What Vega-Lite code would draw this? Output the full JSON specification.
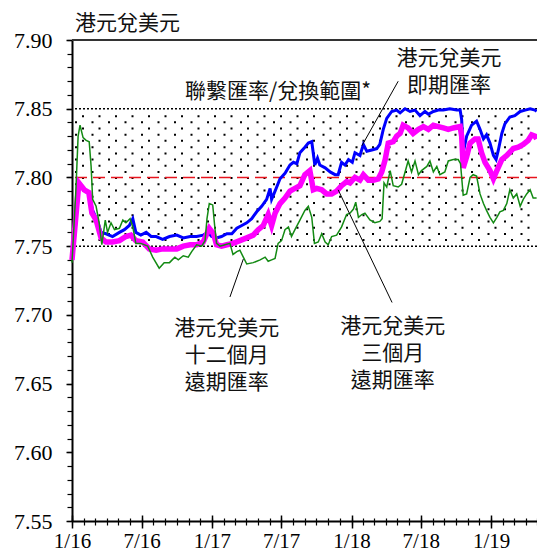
{
"$schema":"https://vega.github.io/schema/vega-lite/v6.json",
"width":465,"height":481,
"autosize":{"type":"none"},
"padding":{"left":72,"top":40,"right":0,"bottom":31},
"background":"white",
"config":{"view":{"stroke":null},"axis":{"grid":false,"domainColor":"black","tickColor":"black","labelColor":"black","labelFont":"Liberation Serif","title":null}},
"title":{"text":"港元兌美元","anchor":"start","frame":"group","font":"Noto Sans CJK TC","fontSize":21,"fontWeight":"normal","color":"#111","offset":6,"dx":3,"dy":11},
"datasets":{
"spot":[
{"d":"2016-01-01","v":7.742},{"d":"2016-01-09","v":7.760},{"d":"2016-01-19","v":7.795},{"d":"2016-01-27","v":7.793},{"d":"2016-02-07","v":7.790},{"d":"2016-02-15","v":7.787},{"d":"2016-02-24","v":7.776},{"d":"2016-03-08","v":7.768},{"d":"2016-03-17","v":7.760},{"d":"2016-03-30","v":7.759},{"d":"2016-04-16","v":7.757},{"d":"2016-05-04","v":7.760},{"d":"2016-05-17","v":7.762},{"d":"2016-05-30","v":7.765},{"d":"2016-06-08","v":7.770},{"d":"2016-06-16","v":7.760},{"d":"2016-06-29","v":7.758},{"d":"2016-07-13","v":7.760},{"d":"2016-07-26","v":7.757},{"d":"2016-08-08","v":7.757},{"d":"2016-08-25","v":7.755},{"d":"2016-09-12","v":7.757},{"d":"2016-10-01","v":7.758},{"d":"2016-10-18","v":7.756},{"d":"2016-11-05","v":7.757},{"d":"2016-11-22","v":7.757},{"d":"2016-12-09","v":7.758},{"d":"2016-12-22","v":7.760},{"d":"2016-12-31","v":7.757},{"d":"2017-01-13","v":7.756},{"d":"2017-01-26","v":7.757},{"d":"2017-02-09","v":7.759},{"d":"2017-02-22","v":7.759},{"d":"2017-03-07","v":7.763},{"d":"2017-03-20","v":7.765},{"d":"2017-04-02","v":7.767},{"d":"2017-04-15","v":7.770},{"d":"2017-04-28","v":7.775},{"d":"2017-05-11","v":7.779},{"d":"2017-05-24","v":7.784},{"d":"2017-06-02","v":7.792},{"d":"2017-06-06","v":7.784},{"d":"2017-06-15","v":7.790},{"d":"2017-06-28","v":7.799},{"d":"2017-07-11","v":7.803},{"d":"2017-07-24","v":7.809},{"d":"2017-08-02","v":7.811},{"d":"2017-08-11","v":7.810},{"d":"2017-08-19","v":7.818},{"d":"2017-09-01","v":7.822},{"d":"2017-09-10","v":7.825},{"d":"2017-09-19","v":7.826},{"d":"2017-09-27","v":7.809},{"d":"2017-10-04","v":7.814},{"d":"2017-10-10","v":7.809},{"d":"2017-10-24","v":7.807},{"d":"2017-11-06","v":7.804},{"d":"2017-11-19","v":7.802},{"d":"2017-11-27","v":7.802},{"d":"2017-12-06","v":7.811},{"d":"2017-12-15","v":7.809},{"d":"2017-12-24","v":7.813},{"d":"2018-01-03","v":7.811},{"d":"2018-01-10","v":7.818},{"d":"2018-01-23","v":7.816},{"d":"2018-02-01","v":7.824},{"d":"2018-02-10","v":7.819},{"d":"2018-02-23","v":7.820},{"d":"2018-03-08","v":7.821},{"d":"2018-03-16","v":7.824},{"d":"2018-03-25","v":7.835},{"d":"2018-04-03","v":7.843},{"d":"2018-04-16","v":7.848},{"d":"2018-04-29","v":7.849},{"d":"2018-05-08","v":7.847},{"d":"2018-05-21","v":7.850},{"d":"2018-06-03","v":7.848},{"d":"2018-06-16","v":7.849},{"d":"2018-06-29","v":7.845},{"d":"2018-07-12","v":7.848},{"d":"2018-07-21","v":7.846},{"d":"2018-08-03","v":7.848},{"d":"2018-08-16","v":7.849},{"d":"2018-08-29","v":7.849},{"d":"2018-09-15","v":7.850},{"d":"2018-10-03","v":7.849},{"d":"2018-10-12","v":7.849},{"d":"2018-10-16","v":7.842},{"d":"2018-10-20","v":7.818},{"d":"2018-10-29","v":7.830},{"d":"2018-11-11","v":7.838},{"d":"2018-11-24","v":7.841},{"d":"2018-12-03","v":7.835},{"d":"2018-12-12","v":7.828},{"d":"2018-12-20","v":7.831},{"d":"2018-12-29","v":7.825},{"d":"2019-01-07","v":7.816},{"d":"2019-01-14","v":7.813},{"d":"2019-01-20","v":7.820},{"d":"2019-01-29","v":7.832},{"d":"2019-02-06","v":7.839},{"d":"2019-02-19","v":7.844},{"d":"2019-03-04","v":7.845},{"d":"2019-03-18","v":7.848},{"d":"2019-03-31","v":7.849},{"d":"2019-04-13","v":7.850},{"d":"2019-04-26","v":7.849},{"d":"2019-04-30","v":7.848}],
"m3":[
{"d":"2016-01-01","v":7.740},{"d":"2016-01-09","v":7.765},{"d":"2016-01-19","v":7.796},{"d":"2016-02-02","v":7.791},{"d":"2016-02-14","v":7.789},{"d":"2016-02-22","v":7.774},{"d":"2016-03-04","v":7.769},{"d":"2016-03-17","v":7.756},{"d":"2016-03-30","v":7.753},{"d":"2016-04-16","v":7.753},{"d":"2016-05-04","v":7.754},{"d":"2016-05-21","v":7.757},{"d":"2016-06-03","v":7.758},{"d":"2016-06-16","v":7.754},{"d":"2016-07-04","v":7.753},{"d":"2016-07-21","v":7.748},{"d":"2016-08-08","v":7.747},{"d":"2016-08-25","v":7.748},{"d":"2016-09-12","v":7.748},{"d":"2016-10-01","v":7.748},{"d":"2016-10-18","v":7.750},{"d":"2016-11-05","v":7.751},{"d":"2016-11-22","v":7.751},{"d":"2016-12-09","v":7.753},{"d":"2016-12-25","v":7.763},{"d":"2017-01-05","v":7.759},{"d":"2017-01-13","v":7.751},{"d":"2017-01-26","v":7.750},{"d":"2017-02-09","v":7.751},{"d":"2017-02-25","v":7.752},{"d":"2017-03-15","v":7.754},{"d":"2017-04-02","v":7.756},{"d":"2017-04-19","v":7.758},{"d":"2017-05-02","v":7.762},{"d":"2017-05-15","v":7.765},{"d":"2017-05-28","v":7.773},{"d":"2017-06-06","v":7.765},{"d":"2017-06-15","v":7.774},{"d":"2017-06-28","v":7.781},{"d":"2017-07-11","v":7.785},{"d":"2017-07-24","v":7.790},{"d":"2017-08-06","v":7.792},{"d":"2017-08-19","v":7.794},{"d":"2017-09-01","v":7.802},{"d":"2017-09-14","v":7.805},{"d":"2017-09-23","v":7.791},{"d":"2017-10-02","v":7.792},{"d":"2017-10-15","v":7.791},{"d":"2017-10-28","v":7.788},{"d":"2017-11-10","v":7.788},{"d":"2017-11-23","v":7.790},{"d":"2017-12-06","v":7.794},{"d":"2017-12-19","v":7.797},{"d":"2017-12-28","v":7.796},{"d":"2018-01-10","v":7.800},{"d":"2018-01-23","v":7.798},{"d":"2018-02-01","v":7.802},{"d":"2018-02-14","v":7.798},{"d":"2018-02-27","v":7.798},{"d":"2018-03-12","v":7.799},{"d":"2018-03-21","v":7.804},{"d":"2018-03-30","v":7.813},{"d":"2018-04-07","v":7.825},{"d":"2018-04-20","v":7.826},{"d":"2018-04-29","v":7.830},{"d":"2018-05-08","v":7.832},{"d":"2018-05-16","v":7.838},{"d":"2018-05-29","v":7.836},{"d":"2018-06-11","v":7.832},{"d":"2018-06-25","v":7.835},{"d":"2018-07-08","v":7.837},{"d":"2018-07-21","v":7.835},{"d":"2018-08-03","v":7.838},{"d":"2018-08-16","v":7.837},{"d":"2018-08-29","v":7.836},{"d":"2018-09-11","v":7.835},{"d":"2018-09-24","v":7.836},{"d":"2018-10-12","v":7.837},{"d":"2018-10-16","v":7.830},{"d":"2018-10-20","v":7.807},{"d":"2018-10-29","v":7.815},{"d":"2018-11-07","v":7.825},{"d":"2018-11-20","v":7.828},{"d":"2018-11-28","v":7.828},{"d":"2018-12-07","v":7.818},{"d":"2018-12-16","v":7.811},{"d":"2018-12-29","v":7.805},{"d":"2019-01-07","v":7.799},{"d":"2019-01-16","v":7.805},{"d":"2019-01-29","v":7.813},{"d":"2019-02-11","v":7.816},{"d":"2019-02-28","v":7.821},{"d":"2019-03-13","v":7.822},{"d":"2019-03-26","v":7.824},{"d":"2019-04-08","v":7.827},{"d":"2019-04-17","v":7.831},{"d":"2019-04-26","v":7.830},{"d":"2019-04-30","v":7.828}],
"m12":[
{"d":"2016-01-01","v":7.738},{"d":"2016-01-11","v":7.790},{"d":"2016-01-17","v":7.830},{"d":"2016-01-22","v":7.838},{"d":"2016-01-30","v":7.829},{"d":"2016-02-07","v":7.827},{"d":"2016-02-15","v":7.826},{"d":"2016-02-20","v":7.808},{"d":"2016-02-24","v":7.784},{"d":"2016-03-04","v":7.779},{"d":"2016-03-12","v":7.767},{"d":"2016-03-19","v":7.751},{"d":"2016-03-28","v":7.769},{"d":"2016-04-03","v":7.760},{"d":"2016-04-12","v":7.767},{"d":"2016-04-21","v":7.762},{"d":"2016-05-04","v":7.763},{"d":"2016-05-13","v":7.769},{"d":"2016-05-21","v":7.767},{"d":"2016-06-01","v":7.770},{"d":"2016-06-08","v":7.764},{"d":"2016-06-16","v":7.752},{"d":"2016-06-29","v":7.752},{"d":"2016-07-17","v":7.750},{"d":"2016-07-30","v":7.742},{"d":"2016-08-16","v":7.734},{"d":"2016-08-29","v":7.738},{"d":"2016-09-12","v":7.738},{"d":"2016-09-19","v":7.740},{"d":"2016-09-26","v":7.742},{"d":"2016-10-05","v":7.740},{"d":"2016-10-18","v":7.743},{"d":"2016-10-31","v":7.742},{"d":"2016-11-09","v":7.746},{"d":"2016-11-22","v":7.751},{"d":"2016-12-05","v":7.750},{"d":"2016-12-14","v":7.754},{"d":"2016-12-19","v":7.770},{"d":"2016-12-25","v":7.781},{"d":"2017-01-03","v":7.780},{"d":"2017-01-08","v":7.765},{"d":"2017-01-13","v":7.752},{"d":"2017-01-22","v":7.750},{"d":"2017-02-04","v":7.751},{"d":"2017-02-17","v":7.752},{"d":"2017-02-25","v":7.744},{"d":"2017-03-07","v":7.746},{"d":"2017-03-15","v":7.747},{"d":"2017-03-24","v":7.742},{"d":"2017-04-02","v":7.737},{"d":"2017-04-19","v":7.738},{"d":"2017-05-07","v":7.740},{"d":"2017-05-20","v":7.742},{"d":"2017-05-28","v":7.739},{"d":"2017-06-06","v":7.740},{"d":"2017-06-15","v":7.741},{"d":"2017-06-23","v":7.752},{"d":"2017-07-02","v":7.754},{"d":"2017-07-11","v":7.762},{"d":"2017-07-20","v":7.764},{"d":"2017-07-28","v":7.757},{"d":"2017-08-06","v":7.762},{"d":"2017-08-19","v":7.769},{"d":"2017-09-01","v":7.776},{"d":"2017-09-10","v":7.779},{"d":"2017-09-19","v":7.771},{"d":"2017-09-26","v":7.752},{"d":"2017-10-06","v":7.753},{"d":"2017-10-15","v":7.759},{"d":"2017-10-24","v":7.753},{"d":"2017-11-01","v":7.751},{"d":"2017-11-10","v":7.757},{"d":"2017-11-23","v":7.758},{"d":"2017-12-06","v":7.764},{"d":"2017-12-19","v":7.773},{"d":"2017-12-28","v":7.774},{"d":"2018-01-06","v":7.777},{"d":"2018-01-12","v":7.782},{"d":"2018-01-19","v":7.771},{"d":"2018-01-28","v":7.773},{"d":"2018-02-05","v":7.774},{"d":"2018-02-18","v":7.769},{"d":"2018-03-03","v":7.767},{"d":"2018-03-16","v":7.768},{"d":"2018-03-22","v":7.770},{"d":"2018-03-27","v":7.796},{"d":"2018-04-03","v":7.793},{"d":"2018-04-12","v":7.805},{"d":"2018-04-20","v":7.794},{"d":"2018-05-03","v":7.793},{"d":"2018-05-12","v":7.795},{"d":"2018-05-21","v":7.804},{"d":"2018-05-29","v":7.812},{"d":"2018-06-07","v":7.804},{"d":"2018-06-16","v":7.812},{"d":"2018-06-25","v":7.802},{"d":"2018-07-03","v":7.805},{"d":"2018-07-17","v":7.808},{"d":"2018-07-25","v":7.812},{"d":"2018-08-03","v":7.804},{"d":"2018-08-12","v":7.808},{"d":"2018-08-20","v":7.802},{"d":"2018-09-02","v":7.804},{"d":"2018-09-11","v":7.812},{"d":"2018-09-24","v":7.813},{"d":"2018-10-07","v":7.813},{"d":"2018-10-13","v":7.810},{"d":"2018-10-20","v":7.787},{"d":"2018-10-29","v":7.788},{"d":"2018-11-07","v":7.800},{"d":"2018-11-15","v":7.802},{"d":"2018-11-24","v":7.801},{"d":"2018-12-03","v":7.788},{"d":"2018-12-12","v":7.781},{"d":"2018-12-20","v":7.776},{"d":"2018-12-29","v":7.771},{"d":"2019-01-07","v":7.767},{"d":"2019-01-16","v":7.771},{"d":"2019-01-24","v":7.775},{"d":"2019-02-02","v":7.776},{"d":"2019-02-11","v":7.781},{"d":"2019-02-19","v":7.791},{"d":"2019-02-28","v":7.785},{"d":"2019-03-09","v":7.788},{"d":"2019-03-18","v":7.779},{"d":"2019-03-26","v":7.784},{"d":"2019-04-04","v":7.788},{"d":"2019-04-13","v":7.791},{"d":"2019-04-21","v":7.785},{"d":"2019-04-30","v":7.785}],
"dots":[
{"lv":7.8446,"p":0},{"lv":7.8401,"p":1},{"lv":7.8356,"p":0},{"lv":7.8311,"p":1},{"lv":7.8266,"p":0},{"lv":7.8220,"p":1},{"lv":7.8175,"p":0},{"lv":7.8130,"p":1},{"lv":7.8085,"p":0},{"lv":7.8040,"p":1},{"lv":7.7995,"p":0},{"lv":7.7950,"p":1},{"lv":7.7905,"p":0},{"lv":7.7860,"p":1},{"lv":7.7814,"p":0},{"lv":7.7769,"p":1},{"lv":7.7724,"p":0},{"lv":7.7679,"p":1},{"lv":7.7634,"p":0},{"lv":7.7589,"p":1},{"lv":7.7544,"p":0}],
"band":[{"lv":7.75},{"lv":7.85}],
"leaders":[
{"x1":"2018-01-28","y1":7.823,"x2":"2018-05-03","y2":7.870},
{"x1":"2017-11-27","y1":7.791,"x2":"2018-04-17","y2":7.709},
{"x1":"2017-03-24","y1":7.7406,"x2":"2017-02-17","y2":7.713}],
"labels":[
{"t":["聯繫匯率/兌換範圍*"],"x":"2017-06-23","y":7.8578},
{"t":["港元兌美元","即期匯率"],"x":"2018-09-13","y":7.882},
{"t":["港元兌美元","三個月","遠期匯率"],"x":"2018-04-19","y":7.6868},
{"t":["港元兌美元","十二個月","遠期匯率"],"x":"2017-02-09","y":7.6855}]
},
"resolve":{"axis":{"x":"independent","y":"independent"}},
"layer":[
{"data":{"name":"dots"},"transform":[{"filter":"datum.p == 0"}],
 "mark":{"type":"rule","color":"black","strokeWidth":2,"strokeDash":[2,14.5],"strokeDashOffset":9},
 "encoding":{"y":{"field":"lv","type":"quantitative","scale":{"domain":[7.55,7.9],"zero":false,"nice":false},"axis":null}}},
{"data":{"name":"dots"},"transform":[{"filter":"datum.p == 1"}],
 "mark":{"type":"rule","color":"black","strokeWidth":2,"strokeDash":[2,14.5],"strokeDashOffset":2},
 "encoding":{"y":{"field":"lv","type":"quantitative","axis":null}}},
{"data":{"name":"band"},
 "mark":{"type":"rule","color":"black","strokeWidth":1.5,"strokeDash":[2,2]},
 "encoding":{"y":{"field":"lv","type":"quantitative","axis":null}}},
{"data":{"values":[{}]},
 "mark":{"type":"rule","color":"#e8141e","strokeWidth":1.5,"strokeDash":[12,6]},
 "encoding":{"y":{"datum":7.8,"type":"quantitative","axis":null}}},
{"data":{"values":[{}]},
 "mark":{"type":"rule","color":"#333","strokeWidth":2},
 "encoding":{"y":{"datum":7.9,"type":"quantitative","axis":null}}},
{"data":{"name":"spot"},
 "mark":{"type":"line","color":"#0000ff","strokeWidth":3,"interpolate":"linear"},
 "encoding":{
  "x":{"field":"d","type":"temporal","scale":{"type":"utc","domain":[{"year":2016,"month":1,"date":1,"utc":true},{"year":2019,"month":5,"date":1,"utc":true}]},
       "axis":{"orient":"bottom","tickCount":{"interval":"month","step":6},"format":"%-m/%y","labelFont":"Liberation Serif","labelFontSize":21,"tickSize":7,"tickWidth":1.5,"domainWidth":2,"labelPadding":2,"labelFlush":false,"labelOverlap":false}},
  "y":{"field":"v","type":"quantitative","scale":{"domain":[7.55,7.9],"zero":false,"nice":false},
       "axis":{"orient":"left","values":[7.55,7.6,7.65,7.7,7.75,7.8,7.85,7.9],"format":".2f","labelFont":"Liberation Serif","labelFontSize":22,"tickSize":6,"tickWidth":1.5,"domainWidth":2,"labelPadding":14}}}},
{"data":{"name":"m3"},
 "mark":{"type":"line","color":"#ff00ff","strokeWidth":5.5},
 "encoding":{
  "x":{"field":"d","type":"temporal","axis":{"orient":"bottom","tickCount":{"interval":"month","step":1},"labels":false,"domain":false,"tickSize":4,"tickWidth":1.2}},
  "y":{"field":"v","type":"quantitative","axis":{"orient":"left","values":[7.55,7.56,7.57,7.58,7.59,7.6,7.61,7.62,7.63,7.64,7.65,7.66,7.67,7.68,7.69,7.7,7.71,7.72,7.73,7.74,7.75,7.76,7.77,7.78,7.79,7.8,7.81,7.82,7.83,7.84,7.85,7.86,7.87,7.88,7.89,7.9],"labels":false,"domain":false,"tickSize":5,"tickWidth":1.2}}}},
{"data":{"name":"m12"},
 "mark":{"type":"line","color":"#138a13","strokeWidth":1.5},
 "encoding":{
  "x":{"field":"d","type":"temporal","axis":{"orient":"bottom","tickCount":{"interval":"month","step":6},"labels":false,"domain":false,"tickSize":-6,"tickWidth":1.5}},
  "y":{"field":"v","type":"quantitative","axis":null}}},
{"data":{"name":"leaders"},
 "mark":{"type":"rule","color":"black","strokeWidth":1},
 "encoding":{
  "x":{"field":"x1","type":"temporal","axis":{"orient":"bottom","tickCount":{"interval":"month","step":1},"labels":false,"domain":false,"tickSize":-3,"tickWidth":1.2}},
  "y":{"field":"y1","type":"quantitative","axis":null},
  "x2":{"field":"x2"},"y2":{"field":"y2"}}},
{"data":{"name":"labels"},
 "mark":{"type":"text","align":"center","baseline":"alphabetic","font":"Noto Sans CJK TC","fontSize":21,"lineHeight":27,"color":"#111"},
 "encoding":{
  "x":{"field":"x","type":"temporal","axis":null},
  "y":{"field":"y","type":"quantitative","axis":null},
  "text":{"field":"t"}}}
]
}
